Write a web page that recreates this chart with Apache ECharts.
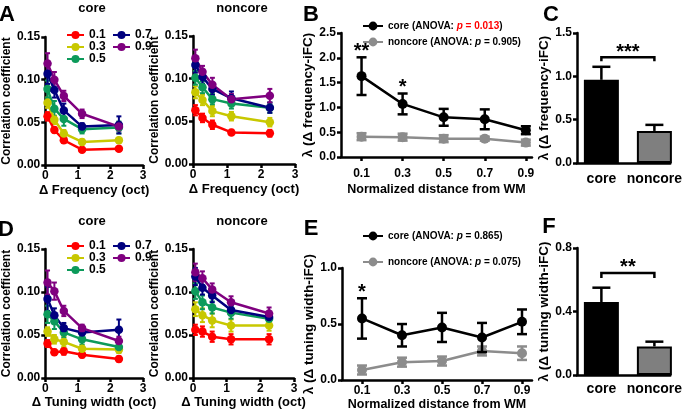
<!DOCTYPE html>
<html><head><meta charset="utf-8">
<script src="https://cdn.jsdelivr.net/npm/echarts@6/dist/echarts.min.js"></script>
<style>html,body{margin:0;padding:0;background:#fff}#c{width:685px;height:412px}</style>
</head><body><div id="c"></div>
<script>
// ---------------- DATA ----------------
const levels = ['0.1', '0.3', '0.5', '0.7', '0.9'];
const deltaOct = [0.07, 0.28, 0.57, 1.13, 2.26];          // x of panels A and D
const freqCoreMean = [
  [0.057, 0.041, 0.029, 0.018, 0.019],
  [0.073, 0.053, 0.037, 0.027, 0.029],
  [0.089, 0.066, 0.054, 0.042, 0.044],
  [0.107, 0.088, 0.064, 0.045, 0.047],
  [0.119, 0.100, 0.081, 0.060, 0.045]];
const freqCoreErr = [
  [0.005, 0.003, 0.003, 0.002, 0.002],
  [0.006, 0.005, 0.004, 0.003, 0.003],
  [0.010, 0.009, 0.008, 0.005, 0.007],
  [0.012, 0.009, 0.008, 0.004, 0.010],
  [0.012, 0.009, 0.006, 0.005, 0.005]];
const freqNoncoreMean = [
  [0.063, 0.054, 0.046, 0.037, 0.036],
  [0.084, 0.075, 0.062, 0.056, 0.049],
  [0.101, 0.090, 0.076, 0.071, 0.066],
  [0.116, 0.102, 0.088, 0.077, 0.066],
  [0.124, 0.108, 0.093, 0.076, 0.080]];
const freqNoncoreErr = [
  [0.006, 0.005, 0.005, 0.003, 0.004],
  [0.007, 0.006, 0.006, 0.005, 0.005],
  [0.008, 0.007, 0.006, 0.006, 0.006],
  [0.009, 0.008, 0.007, 0.008, 0.006],
  [0.010, 0.007, 0.008, 0.006, 0.008]];
const widthCoreMean = [
  [0.040, 0.030, 0.031, 0.027, 0.022],
  [0.054, 0.045, 0.042, 0.034, 0.033],
  [0.074, 0.066, 0.053, 0.045, 0.036],
  [0.092, 0.073, 0.058, 0.053, 0.056],
  [0.111, 0.101, 0.078, 0.058, 0.043]];
const widthCoreErr = [
  [0.004, 0.003, 0.004, 0.003, 0.003],
  [0.005, 0.005, 0.006, 0.004, 0.004],
  [0.010, 0.009, 0.006, 0.006, 0.006],
  [0.014, 0.008, 0.006, 0.005, 0.012],
  [0.014, 0.010, 0.006, 0.004, 0.005]];
const widthNoncoreMean = [
  [0.056, 0.054, 0.048, 0.045, 0.045],
  [0.080, 0.073, 0.067, 0.061, 0.061],
  [0.101, 0.088, 0.082, 0.076, 0.069],
  [0.118, 0.105, 0.096, 0.079, 0.071],
  [0.123, 0.116, 0.103, 0.088, 0.075]];
const widthNoncoreErr = [
  [0.006, 0.006, 0.006, 0.006, 0.006],
  [0.008, 0.008, 0.008, 0.007, 0.006],
  [0.009, 0.008, 0.007, 0.007, 0.005],
  [0.010, 0.008, 0.008, 0.006, 0.005],
  [0.010, 0.008, 0.007, 0.007, 0.007]];

const distances = [0.1, 0.3, 0.5, 0.7, 0.9];             // x of panels B and E
const freqLambdaCore = [1.63, 1.07, 0.80, 0.76, 0.54];
const freqLambdaCoreErr = [0.38, 0.21, 0.17, 0.20, 0.08];
const freqLambdaNoncore = [0.41, 0.40, 0.37, 0.37, 0.29];
const freqLambdaNoncoreErr = [0.07, 0.07, 0.07, 0.04, 0.06];
const freqStars = ['**', '*', '', '', ''];
const widthLambdaCore = [0.55, 0.40, 0.47, 0.38, 0.52];
const widthLambdaCoreErr = [0.18, 0.10, 0.13, 0.13, 0.11];
const widthLambdaNoncore = [0.09, 0.16, 0.17, 0.26, 0.24];
const widthLambdaNoncoreErr = [0.04, 0.04, 0.04, 0.04, 0.06];
const widthStars = ['*', '', '', '', ''];

const groups = ['core', 'noncore'];                       // panels C and F
const freqOverall = [0.96, 0.37];
const freqOverallErr = [0.15, 0.07];
const widthOverall = [0.46, 0.18];
const widthOverallErr = [0.09, 0.03];
const freqSig = '***';
const widthSig = '**';
const anovaFreq = ['0.013', '0.905'];
const anovaWidth = ['0.865', '0.075'];

// ---------------- STYLE / LAYOUT ----------------
const FONT = '"Liberation Sans", Arial, sans-serif';
const lineColors = ['#ff0000', '#c8c800', '#0c9a5a', '#00007f', '#7f007f'];
const grids = [
  {left: 40, top: 37, width: 103, height: 128},
  {left: 193, top: 36, width: 102, height: 128},
  {left: 341, top: 33, width: 191, height: 124},
  {left: 577, top: 33, width: 94, height: 130},
  {left: 40, top: 249, width: 103, height: 129},
  {left: 193, top: 249, width: 101, height: 129},
  {left: 342, top: 268, width: 190, height: 118},
  {left: 577, top: 248, width: 94, height: 127}
];

function merge(a, b) {
  const o = Object.assign({}, a);
  for (const k in b) {
    if (b[k] && typeof b[k] === 'object' && !Array.isArray(b[k]) && a[k] && typeof a[k] === 'object') o[k] = merge(a[k], b[k]);
    else o[k] = b[k];
  }
  return o;
}
const axisBase = {
  nameLocation: 'middle',
  axisLine: {show: true, onZero: false, lineStyle: {color: '#000', width: 2.5}},
  axisTick: {show: true, length: 4, lineStyle: {color: '#000', width: 2.5}},
  axisLabel: {color: '#000', fontWeight: 'bold', fontSize: 12, fontFamily: FONT, margin: 5},
  splitLine: {show: false},
  nameTextStyle: {color: '#000', fontWeight: 'bold', fontSize: 13, fontFamily: FONT}
};
const ax = (o) => merge(axisBase, o);

const xAxis = [
  ax({gridIndex: 0, type: 'value', min: 0, max: 3, interval: 1, name: 'Δ Frequency (oct)', nameGap: 19}),
  ax({gridIndex: 1, type: 'value', min: 0, max: 3, interval: 1, name: 'Δ Frequency (oct)', nameGap: 19}),
  ax({gridIndex: 2, type: 'value', min: 0, max: 0.93, name: 'Normalized distance from WM', nameGap: 26,
      nameTextStyle: {fontSize: 12.5},
      axisTick: {customValues: distances}, axisLabel: {customValues: distances, margin: 11, formatter: v => v.toFixed(1)}}),
  ax({gridIndex: 3, type: 'value', min: -0.46, max: 1.3, axisTick: {show: false},
      axisLabel: {customValues: [0, 1], fontSize: 14, margin: 9, formatter: v => groups[Math.round(v)]}}),
  ax({gridIndex: 4, type: 'value', min: 0, max: 3, interval: 1, name: 'Δ Tuning width (oct)', nameGap: 18}),
  ax({gridIndex: 5, type: 'value', min: 0, max: 3, interval: 1, name: 'Δ Tuning width (oct)', nameGap: 18}),
  ax({gridIndex: 6, type: 'value', min: 0, max: 0.95, name: 'Normalized distance from WM', nameGap: 16,
      nameTextStyle: {fontSize: 12.5},
      axisTick: {customValues: distances}, axisLabel: {customValues: distances, margin: 5, formatter: v => v.toFixed(1)}}),
  ax({gridIndex: 7, type: 'value', min: -0.46, max: 1.3, axisTick: {show: false},
      axisLabel: {customValues: [0, 1], fontSize: 14, margin: 7, formatter: v => groups[Math.round(v)]}})
];
const corrY = (g) => ax({gridIndex: g, type: 'value', min: 0, max: 0.15, interval: 0.05,
  name: 'Correlation coefficient', nameGap: 25, nameTextStyle: {fontSize: 12},
  axisLabel: {formatter: v => v.toFixed(2)}});
const yAxis = [
  corrY(0), corrY(1),
  ax({gridIndex: 2, type: 'value', min: 0, max: 2.5, interval: 0.5, name: 'λ (Δ frequency-iFC)', nameGap: 24,
      nameTextStyle: {fontSize: 13.5}, axisLabel: {formatter: v => v.toFixed(1)}}),
  ax({gridIndex: 3, type: 'value', min: 0, max: 1.5, interval: 0.5, name: 'λ (Δ frequency-iFC)', nameGap: 18,
      nameTextStyle: {fontSize: 13.5}, axisLabel: {formatter: v => v.toFixed(1)}}),
  corrY(4), corrY(5),
  ax({gridIndex: 6, type: 'value', min: 0, max: 1, interval: 0.5, name: 'λ (Δ tuning width-iFC)', nameGap: 24,
      nameTextStyle: {fontSize: 13.5}, axisLabel: {formatter: v => v.toFixed(1)}}),
  ax({gridIndex: 7, type: 'value', min: 0, max: 0.8, interval: 0.4, name: 'λ (Δ tuning width-iFC)', nameGap: 18,
      nameTextStyle: {fontSize: 13.5}, axisLabel: {formatter: v => v.toFixed(1)}})
];

function errRender(cap, lw, upperOnly) {
  return function (params, api) {
    const x = api.value(0), y = api.value(1), e = api.value(2);
    const top = api.coord([x, y + e]);
    const bot = upperOnly ? api.coord([x, y]) : api.coord([x, y - e]);
    const c = api.visual('color');
    const st = {stroke: c, lineWidth: lw};
    const kids = [
      {type: 'line', shape: {x1: top[0], y1: top[1], x2: bot[0], y2: bot[1]}, style: st},
      {type: 'line', shape: {x1: top[0] - cap, y1: top[1], x2: top[0] + cap, y2: top[1]}, style: st}
    ];
    if (!upperOnly) kids.push({type: 'line', shape: {x1: bot[0] - cap, y1: bot[1], x2: bot[0] + cap, y2: bot[1]}, style: st});
    return {type: 'group', children: kids};
  };
}

const series = [];
function linePanel(g, xs, means, errs) {
  levels.forEach((lv, i) => {
    series.push({type: 'custom', xAxisIndex: g, yAxisIndex: g, silent: true, z: 2,
      itemStyle: {color: lineColors[i]}, encode: {x: 0, y: 1},
      data: xs.map((x, j) => [x, means[i][j], errs[i][j]]), renderItem: errRender(2.5, 2, false)});
    series.push({type: 'line', name: lv, xAxisIndex: g, yAxisIndex: g, z: 3, symbol: 'circle', symbolSize: 8.5,
      color: lineColors[i], lineStyle: {width: 2.5, color: lineColors[i]}, itemStyle: {color: lineColors[i]},
      data: xs.map((x, j) => [x, means[i][j]])});
  });
}
linePanel(0, deltaOct, freqCoreMean, freqCoreErr);
linePanel(1, deltaOct, freqNoncoreMean, freqNoncoreErr);
linePanel(4, deltaOct, widthCoreMean, widthCoreErr);
linePanel(5, deltaOct, widthNoncoreMean, widthNoncoreErr);

function starRender(params, api) {
  const p = api.coord([api.value(0), api.value(1) + api.value(2)]);
  const label = api.value(3);
  return {type: 'text', style: {text: label, x: p[0], y: p[1] + 4, align: 'center', verticalAlign: 'bottom',
    font: 'bold 20px ' + FONT, fill: '#000'}};
}
const lamNames = {};
function lambdaPanel(g, cores, coreErr, nons, nonErr, stars, pvals) {
  const cName = 'core (ANOVA: p = ' + pvals[0] + ')';
  const nName = 'noncore (ANOVA: p = ' + pvals[1] + ')';
  lamNames[g] = [cName, nName];
  series.push({type: 'custom', xAxisIndex: g, yAxisIndex: g, silent: true, z: 2, itemStyle: {color: '#8c8c8c'},
    encode: {x: 0, y: 1}, data: distances.map((x, j) => [x, nons[j], nonErr[j]]), renderItem: errRender(5, 2.5, false)});
  series.push({type: 'line', name: nName, xAxisIndex: g, yAxisIndex: g, z: 3, symbol: 'circle', symbolSize: 10,
    color: '#8c8c8c', lineStyle: {width: 2.5, color: '#8c8c8c'}, itemStyle: {color: '#8c8c8c'},
    data: distances.map((x, j) => [x, nons[j]])});
  series.push({type: 'custom', xAxisIndex: g, yAxisIndex: g, silent: true, z: 4, itemStyle: {color: '#000'},
    encode: {x: 0, y: 1}, data: distances.map((x, j) => [x, cores[j], coreErr[j]]), renderItem: errRender(5, 2.5, false)});
  series.push({type: 'line', name: cName, xAxisIndex: g, yAxisIndex: g, z: 5, symbol: 'circle', symbolSize: 10,
    color: '#000', lineStyle: {width: 2.5, color: '#000'}, itemStyle: {color: '#000'},
    data: distances.map((x, j) => [x, cores[j]])});
  series.push({type: 'custom', xAxisIndex: g, yAxisIndex: g, silent: true, z: 6, encode: {x: 0, y: 1},
    data: distances.map((x, j) => [x, cores[j], coreErr[j], stars[j]]).filter(d => d[3]), renderItem: starRender});
}
lambdaPanel(2, freqLambdaCore, freqLambdaCoreErr, freqLambdaNoncore, freqLambdaNoncoreErr, freqStars, anovaFreq);
lambdaPanel(6, widthLambdaCore, widthLambdaCoreErr, widthLambdaNoncore, widthLambdaNoncoreErr, widthStars, anovaWidth);

function barPanel(g, vals, errs, sig, level, drop) {
  series.push({type: 'bar', xAxisIndex: g, yAxisIndex: g, barWidth: 35, z: 2,
    data: groups.map((n, i) => ({value: [i, vals[i]], itemStyle: {color: i === 0 ? '#000' : '#7f7f7f', borderColor: '#000', borderWidth: 2}}))});
  series.push({type: 'custom', xAxisIndex: g, yAxisIndex: g, silent: true, z: 3, itemStyle: {color: '#000'},
    encode: {x: 0, y: 1}, data: groups.map((n, i) => [i, vals[i], errs[i]]), renderItem: errRender(9, 2.5, true)});
  series.push({type: 'custom', xAxisIndex: g, yAxisIndex: g, silent: true, z: 4, encode: {x: 0, y: 1},
    data: [[0, level, drop]], renderItem: function (params, api) {
      const a = api.coord([0, api.value(2)]), b = api.coord([0, api.value(1)]);
      const c = api.coord([1, api.value(1)]), d = api.coord([1, api.value(2)]);
      return {type: 'group', children: [
        {type: 'polyline', shape: {points: [a, b, c, d]}, style: {stroke: '#000', lineWidth: 2.5, fill: null}},
        {type: 'text', style: {text: sig, x: (b[0] + c[0]) / 2, y: b[1] + 5, align: 'center', verticalAlign: 'bottom',
          font: 'bold 20px ' + FONT, fill: '#000'}}
      ]};
    }});
}
barPanel(3, freqOverall, freqOverallErr, freqSig, 1.22, 1.175);
barPanel(7, widthOverall, widthOverallErr, widthSig, 0.643, 0.611);

const legTxt = {fontWeight: 'bold', fontSize: 12, color: '#000', fontFamily: FONT};
const lvLegend = (names, left, top) => ({data: names, left, top, orient: 'vertical', itemWidth: 17, itemHeight: 10,
  itemGap: 0, selectedMode: false, textStyle: legTxt});
const rich = {
  t: {fontWeight: 'bold', fontSize: 10, color: '#000', fontFamily: FONT},
  i: {fontWeight: 'bold', fontStyle: 'italic', fontSize: 10, color: '#000', fontFamily: FONT},
  ri: {fontWeight: 'bold', fontStyle: 'italic', fontSize: 10, color: '#ff0000', fontFamily: FONT},
  r: {fontWeight: 'bold', fontSize: 10, color: '#ff0000', fontFamily: FONT}
};
function lamFmt(name) {
  const m = name.match(/^(\w+) \(ANOVA: p = ([\d.]+)\)$/);
  const sig = parseFloat(m[2]) < 0.05;
  return '{t|' + m[1] + ' (ANOVA: }' + (sig ? '{ri|p}{r| = ' + m[2] + '}' : '{i|p}{t| = ' + m[2] + '}') + '{t|)}';
}
const lamLegend = (names, left, top, gap) => ({data: names, left, top, orient: 'vertical', itemWidth: 20, itemHeight: 11,
  itemGap: gap, selectedMode: false, formatter: lamFmt, textStyle: {rich}});

const legend = [
  lvLegend(levels.slice(0, 3), 61, 24), lvLegend(levels.slice(3), 107, 24),
  lvLegend(levels.slice(0, 3), 61, 235), lvLegend(levels.slice(3), 107, 235),
  lamLegend(lamNames[2], 357, 16, 6), lamLegend(lamNames[6], 357, 226, 16)
];

const txt = (t, x, y, size, align) => ({type: 'text', x, y, silent: true,
  style: {text: t, align: align || 'center', verticalAlign: 'middle', font: 'bold ' + size + 'px ' + FONT, fill: '#000'}});
const graphic = [
  txt('A', 7, 15, 22), txt('B', 311, 15, 22), txt('C', 551, 15, 22),
  txt('D', 6, 230, 22), txt('E', 311, 229, 22), txt('F', 549, 227, 22),
  txt('core', 92, 8, 13), txt('noncore', 242, 8, 13),
  txt('core', 92, 221, 13), txt('noncore', 242, 221, 13)
];

const chart = echarts.init(document.getElementById('c'));
chart.setOption({
  backgroundColor: '#fff', animation: false, textStyle: {fontFamily: FONT},
  grid: grids, xAxis, yAxis, legend, series, graphic
});
</script></body></html>
